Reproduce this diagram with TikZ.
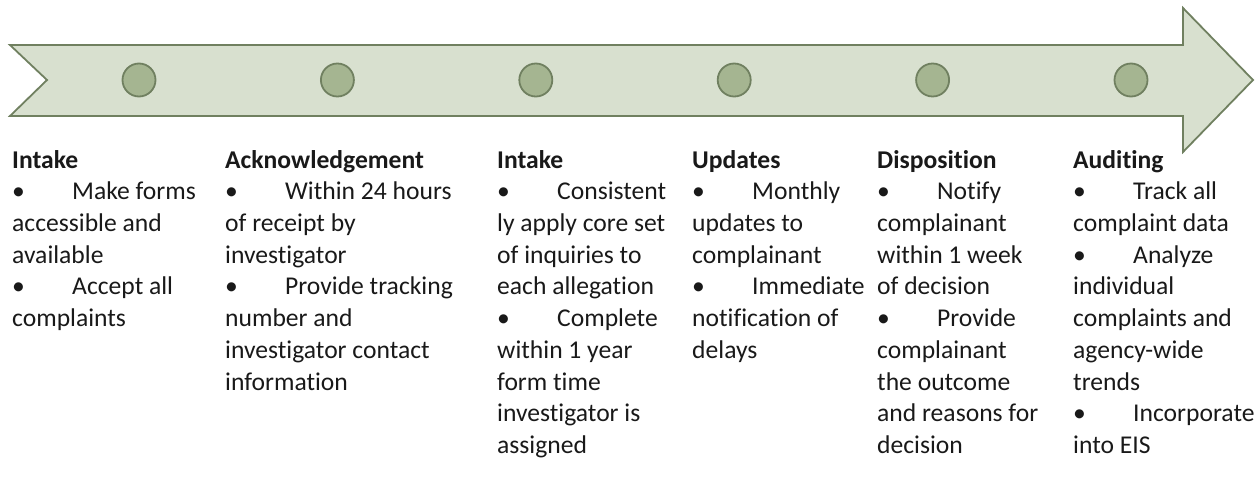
\documentclass[tikz,border=0pt]{standalone}
\usepackage{fontspec}
\setmainfont{Carlito}[Ligatures=NoCommon]
\definecolor{bandfill}{RGB}{216,224,207}
\definecolor{bandline}{RGB}{112,128,96}
\definecolor{dotfill}{RGB}{165,181,145}
\newcommand{\bul}{\makebox[60pt][l]{\textbullet}}
\tikzset{
  stage/.style={anchor=north west, align=left, inner sep=0pt,
    text=black!90, font=\fontsize{25.6}{31.7}\selectfont},
  milestone/.style={circle, draw=bandline, line width=1.8pt, fill=dotfill,
    minimum size=33pt, inner sep=0pt}
}
\begin{document}
\begin{tikzpicture}[x=1pt,y=-1pt]
  \useasboundingbox (0,0) rectangle (1255,501);
  % timeline arrow
  \filldraw[fill=bandfill, draw=bandline, line width=1.8pt]
    (10,45) -- (1183,45) -- (1183,8) -- (1253,80) -- (1183,152)
    -- (1183,116) -- (10,116) -- (47,80) -- cycle;
  % milestones
  \foreach \i in {1,...,6} {
    \node[milestone] (m\i) at ({139+198.4*(\i-1)},80) {};
  }
  % stages
  \node[stage] (intake) at (12,150) {\textbf{Intake}\\
    \bul Make forms\\ accessible and\\ available\\
    \bul Accept all\\ complaints};
  \node[stage] (ack) at (225,150) {\textbf{Acknowledgement}\\
    \bul Within 24 hours\\ of receipt by\\ investigator\\
    \bul Provide tracking\\ number and\\ investigator contact\\ information};
  \node[stage] (review) at (497,150) {\textbf{Intake}\\
    \bul Consistent\\ ly apply core set\\ of inquiries to\\ each allegation\\
    \bul Complete\\ within 1 year\\ form time\\ investigator is\\ assigned};
  \node[stage] (updates) at (692,150) {\textbf{Updates}\\
    \bul Monthly\\ updates to\\ complainant\\
    \bul Immediate\\ notification of\\ delays};
  \node[stage] (dispo) at (877,150) {\textbf{Disposition}\\
    \bul Notify\\ complainant\\ within 1 week\\ of decision\\
    \bul Provide\\ complainant\\ the outcome\\ and reasons for\\ decision};
  \node[stage] (audit) at (1073,150) {\textbf{Auditing}\\
    \bul Track all\\ complaint data\\
    \bul Analyze\\ individual\\ complaints and\\ agency-wide\\ trends\\
    \bul Incorporate\\ into EIS};
\end{tikzpicture}
\end{document}
